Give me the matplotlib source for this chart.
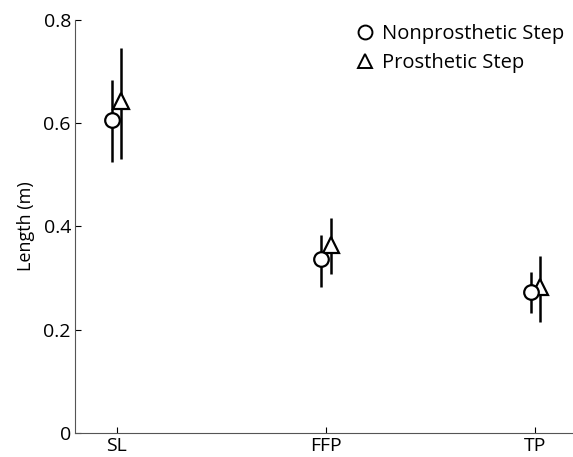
import numpy as np
import matplotlib.pyplot as plt
from matplotlib.lines import Line2D

plt.rcParams['font.family'] = ['Open Sans', 'DejaVu Sans']

categories = ['SL', 'FFP', 'TP']
nonpros_mean = [0.606, 0.336, 0.274]
nonpros_low = [0.524, 0.283, 0.233]
nonpros_high = [0.683, 0.384, 0.311]
pros_mean = [0.643, 0.365, 0.282]
pros_low = [0.530, 0.307, 0.214]
pros_high = [0.746, 0.417, 0.342]

base = np.arange(1, len(categories) + 1)
x_np = base - 0.022
x_p = base + 0.022

fig = plt.figure(figsize=(5.73, 4.57), dpi=100)
ax = fig.add_axes([0.131, 0.0525, 0.876, 0.904])

m = np.array(nonpros_mean)
ax.errorbar(x_np, m, yerr=[m - np.array(nonpros_low), np.array(nonpros_high) - m],
            fmt='o', mfc='white', mec='black', mew=1.6, ms=10.5,
            ecolor='black', elinewidth=1.8, capsize=0, zorder=3)
p = np.array(pros_mean)
ax.errorbar(x_p, p, yerr=[p - np.array(pros_low), np.array(pros_high) - p],
            fmt='^', mfc='white', mec='black', mew=1.6, ms=11.5,
            ecolor='black', elinewidth=1.8, capsize=0, zorder=2)

ax.set_xlim(0.8, 3.2)
ax.set_ylim(0, 0.8)
ax.set_xticks(base)
ax.set_xticklabels(categories)
ax.set_yticks([0, 0.2, 0.4, 0.6, 0.8])
ax.set_yticklabels(['0', '0.2', '0.4', '0.6', '0.8'])
ax.tick_params(direction='in', length=4, width=0.8, labelsize=14, colors='black',
               pad=3)
ax.set_ylabel('Length (m)', fontsize=13, labelpad=6)
for s in ['top', 'right']:
    ax.spines[s].set_visible(False)
for s in ['left', 'bottom']:
    ax.spines[s].set_color('#555555')

handles = [Line2D([], [], ls='none', marker='o', mfc='white', mec='black', mew=1.4, ms=10),
           Line2D([], [], ls='none', marker='^', mfc='white', mec='black', mew=1.4, ms=10)]
fig.legend(handles, ['Nonprosthetic Step', 'Prosthetic Step'], loc='upper right',
           bbox_to_anchor=(1.005, 0.973), frameon=False, fontsize=14.5,
           handletextpad=0.3, borderaxespad=0.2, labelspacing=0.45, handlelength=1.0)

fig.savefig('out.png', dpi=100)
